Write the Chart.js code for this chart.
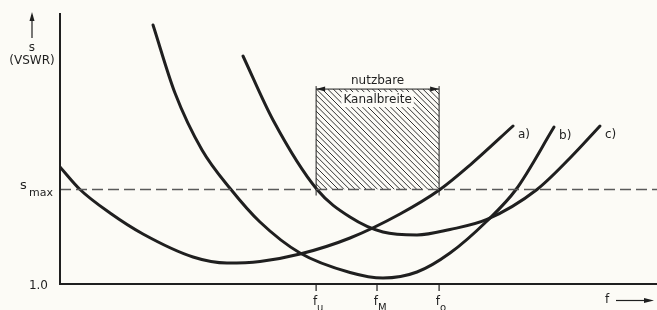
<!DOCTYPE html>
<html><head><meta charset="utf-8">
<script src="https://cdn.jsdelivr.net/npm/chart.js@4/dist/chart.umd.min.js"></script>
<style>html,body{margin:0;padding:0;background:#fcfbf6;}canvas{display:block;}</style>
</head><body>
<canvas id="c" width="657" height="310"></canvas>
<script>
// frequency (arbitrary units) and VSWR values
const curveA_f = [0, 0.335, 0.838, 1.39, 2.228, 2.797, 3.35, 4.02, 4.858, 5.695, 6.365, 6.868, 7.588];
const curveA_s = [2.238, 2.0, 1.751, 1.529, 1.286, 1.222, 1.238, 1.317, 1.487, 1.741, 2.0, 2.259, 2.672];
const curveB_f = [1.558, 1.926, 2.379, 2.864, 3.35, 4.02, 4.858, 5.41, 5.98, 6.533, 7.152, 7.638, 8.275];
const curveB_s = [3.741, 3.021, 2.418, 2.0, 1.656, 1.328, 1.122, 1.063, 1.127, 1.328, 1.667, 2.0, 2.661];
const curveC_f = [3.065, 3.568, 4.305, 4.858, 5.41, 5.98, 6.533, 7.152, 7.99, 8.543, 9.045];
const curveC_s = [3.413, 2.735, 2.0, 1.709, 1.55, 1.519, 1.577, 1.683, 2.0, 2.333, 2.672];
const curveLabels = ['a)', 'b)', 'c)'];
const sMax = 2.0;
const sMin = 1.0;
const sTop = 3.868;
const fRange = [0, 10];
const fTicks = [4.29, 5.31, 6.35];
const fTickSubs = ['u', 'M', 'o'];
const boxTop = 3.063;

const pts = (xs, ys) => xs.map((x, i) => ({x, y: ys[i]}));
const ink = '#1f1f1f';
const FONT = '"DejaVu Sans", "Liberation Sans", sans-serif';

const curveStyle = {borderColor: ink, borderWidth: 3, pointRadius: 0, cubicInterpolationMode: 'monotone', fill: false, borderCapStyle: 'round'};

const deco = {
  id: 'deco',
  beforeDatasetsDraw(chart) {
    const {ctx, scales: {x, y}} = chart;
    const x1 = x.getPixelForValue(fTicks[0]), x2 = x.getPixelForValue(fTicks[2]);
    const yb = y.getPixelForValue(sMax), yt = y.getPixelForValue(boxTop);
    ctx.save();
    // hatching
    ctx.beginPath(); ctx.rect(x1, yt, x2 - x1, yb - yt); ctx.clip();
    ctx.strokeStyle = '#333'; ctx.lineWidth = 1;
    const h = yb - yt;
    for (let s = x1 - h; s < x2 + 10; s += 5.6) {
      ctx.beginPath(); ctx.moveTo(s, yt); ctx.lineTo(s + h, yb); ctx.stroke();
    }
    ctx.restore();
    ctx.save();
    // white behind text
    ctx.fillStyle = '#fcfbf6';
    ctx.font = '12px ' + FONT;
    const tw = ctx.measureText('Kanalbreite').width;
    const cx = (x1 + x2) / 2;
    ctx.fillRect(cx - tw / 2 - 2, yt + 3, tw + 4, 15);
    // vertical sides
    ctx.strokeStyle = ink; ctx.lineWidth = 1;
    ctx.beginPath(); ctx.moveTo(x1, yt - 3); ctx.lineTo(x1, yb + 6); ctx.moveTo(x2, yt - 3); ctx.lineTo(x2, yb + 6); ctx.stroke();
    // dimension line with arrows
    ctx.beginPath(); ctx.moveTo(x1, yt); ctx.lineTo(x2, yt); ctx.stroke();
    ctx.fillStyle = ink;
    ctx.beginPath(); ctx.moveTo(x1, yt); ctx.lineTo(x1 + 9, yt - 2.5); ctx.lineTo(x1 + 9, yt + 2.5); ctx.closePath(); ctx.fill();
    ctx.beginPath(); ctx.moveTo(x2, yt); ctx.lineTo(x2 - 9, yt - 2.5); ctx.lineTo(x2 - 9, yt + 2.5); ctx.closePath(); ctx.fill();
    ctx.textAlign = 'center'; ctx.textBaseline = 'middle';
    ctx.fillText('nutzbare', cx, yt - 8);
    ctx.fillText('Kanalbreite', cx, yt + 11);
    ctx.restore();
  },
  afterDatasetsDraw(chart) {
    const {ctx, scales: {x, y}, chartArea: ca} = chart;
    ctx.save();
    ctx.strokeStyle = ink; ctx.fillStyle = ink;
    // axes
    ctx.lineWidth = 2;
    ctx.beginPath(); ctx.moveTo(ca.left, ca.top); ctx.lineTo(ca.left, ca.bottom); ctx.lineTo(ca.right, ca.bottom); ctx.stroke();
    // ticks
    ctx.lineWidth = 1.2;
    fTicks.forEach((f, i) => {
      const px = x.getPixelForValue(f);
      ctx.beginPath(); ctx.moveTo(px, ca.bottom); ctx.lineTo(px, ca.bottom + 7); ctx.stroke();
      ctx.font = '12px ' + FONT; ctx.textAlign = 'right'; ctx.textBaseline = 'alphabetic';
      ctx.fillText('f', px + 1, ca.bottom + 21);
      ctx.font = '10px ' + FONT; ctx.textAlign = 'left';
      ctx.fillText(fTickSubs[i], px + 1, ca.bottom + 27);
    });
    // curve labels
    ctx.font = '12px ' + FONT; ctx.textAlign = 'left'; ctx.textBaseline = 'middle';
    const ends = [[curveA_f, curveA_s], [curveB_f, curveB_s], [curveC_f, curveC_s]];
    ends.forEach(([fx, sy], i) => {
      const n = fx.length - 1;
      ctx.fillText(curveLabels[i], x.getPixelForValue(fx[n]) + 5, y.getPixelForValue(sy[n]) + 9);
    });
    // y labels
    ctx.font = '12px ' + FONT; ctx.textAlign = 'right'; ctx.textBaseline = 'middle';
    ctx.fillText('1.0', 48, y.getPixelForValue(sMin) + 2);
    const ys = y.getPixelForValue(sMax);
    ctx.textAlign = 'left';
    ctx.font = '13px ' + FONT;
    ctx.fillText('s', 20, ys - 4);
    ctx.font = '11px ' + FONT;
    ctx.fillText('max', 29, ys + 4);
    ctx.font = '12px ' + FONT; ctx.textAlign = 'center';
    ctx.fillText('s', 32, 48);
    ctx.fillText('(VSWR)', 32, 61);
    ctx.lineWidth = 1.2;
    ctx.beginPath(); ctx.moveTo(32, 38); ctx.lineTo(32, 15); ctx.stroke();
    ctx.beginPath(); ctx.moveTo(32, 12); ctx.lineTo(29.5, 21); ctx.lineTo(34.5, 21); ctx.closePath(); ctx.fill();
    // f arrow
    ctx.font = '12px ' + FONT; ctx.textAlign = 'center';
    ctx.fillText('f', 607, 300);
    ctx.beginPath(); ctx.moveTo(616, 300.5); ctx.lineTo(645, 300.5); ctx.stroke();
    ctx.beginPath(); ctx.moveTo(654, 300.5); ctx.lineTo(644, 298); ctx.lineTo(644, 303); ctx.closePath(); ctx.fill();
    ctx.restore();
  }
};

new Chart(document.getElementById('c'), {
  type: 'line',
  data: {
    datasets: [
      {data: pts(fRange, [sMax, sMax]), borderColor: '#5a5a5a', borderWidth: 1.4, borderDash: [11, 5], pointRadius: 0},
      Object.assign({data: pts(curveA_f, curveA_s)}, curveStyle),
      Object.assign({data: pts(curveB_f, curveB_s)}, curveStyle),
      Object.assign({data: pts(curveC_f, curveC_s)}, curveStyle)
    ]
  },
  options: {
    responsive: false, animation: false,
    layout: {padding: {left: 60, right: 0, top: 13, bottom: 26}},
    plugins: {legend: {display: false}, tooltip: {enabled: false}},
    scales: {
      x: {type: 'linear', min: fRange[0], max: fRange[1], display: false},
      y: {type: 'linear', min: sMin, max: sTop, display: false}
    }
  },
  plugins: [deco]
});
</script>
</body></html>
